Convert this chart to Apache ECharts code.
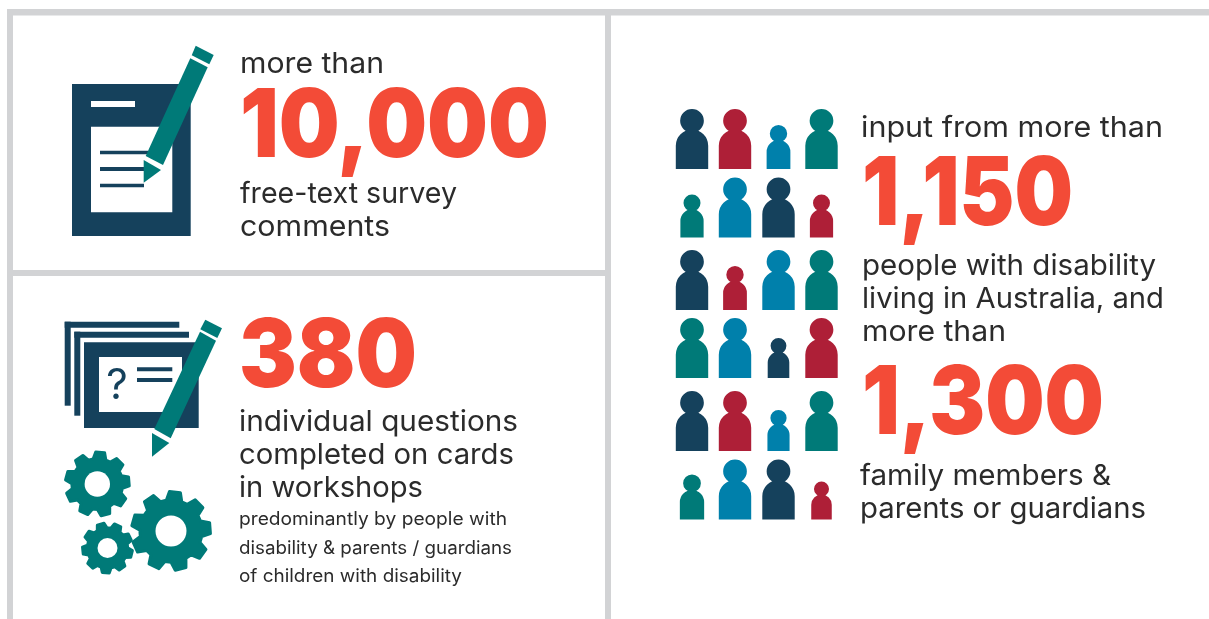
<!DOCTYPE html>
<html>
<head>
<meta charset="utf-8">
<style>
  html, body { margin: 0; padding: 0; background: #fff; }
  #chart { width: 1209px; height: 619px; }
</style>
<script src="https://cdn.jsdelivr.net/npm/echarts@6/dist/echarts.min.js"></script>
</head>
<body>
<div id="chart"></div>
<script>
const NAVY = '#15415c', TEAL = '#007a78', RED = '#ae1f37', BLUE = '#0080ab';
const ORANGE = '#f34b37', INK = '#2b2b2b', FRAME = '#d2d3d5';
const FONT = 'Inter, "Noto Sans", sans-serif';

// people grid, one row per list, left to right
const peopleColumns = [692, 735, 778.5, 821.5];
const peopleBases = [169, 237.5, 310, 378, 451, 519.5];
const peopleHeights = [
  [60, 60, 44, 60],
  [43, 60, 60, 43],
  [60, 44, 60, 60],
  [60, 60, 40, 60],
  [60, 60, 41, 60],
  [45, 60, 60, 38]
];
const peopleColors = [
  [NAVY, RED, BLUE, TEAL],
  [TEAL, BLUE, NAVY, RED],
  [NAVY, RED, BLUE, TEAL],
  [TEAL, BLUE, NAVY, RED],
  [NAVY, RED, BLUE, TEAL],
  [TEAL, BLUE, NAVY, RED]
];

const smallLines = ['more than', 'free-text survey', 'comments', 'individual questions',
  'completed on cards', 'in workshops', 'input from more than', 'people with disability',
  'living in Australia, and', 'more than', 'family members &', 'parents or guardians'];
const smallLinesX = [240, 240, 240, 239, 239, 239, 861, 862, 862, 862, 860, 860];
const smallLinesY = [64, 194, 227, 422, 455, 488, 128, 266, 299, 332, 476, 509];
const smallLinesW = [144, 217, 150, 279, 275, 184, 302, 294, 302, 144, 251, 286];

const noteLines = ['predominantly by people with', 'disability & parents / guardians', 'of children with disability'];
const noteLinesY = [520, 549, 577];
const noteLinesW = [268, 273, 223];

const bigNumbers = ['10,000', '380', '1,150', '1,300'];
const bigNumbersX = [240, 239, 862, 862];
const bigNumbersY = [128.5, 358.5, 196, 405.5];
const bigNumbersW = [309, 178, 211, 242];

const PERSON = 'path://M13 35A35.5 35.5 0 1 1 84 35A35.5 35.5 0 1 1 13 35ZM0 180V110A48.5 48.5 0 0 1 97 110V180Z';

const peopleData = [];
peopleBases.forEach((base, r) => {
  peopleColumns.forEach((x, c) => {
    const h = peopleHeights[r][c];
    peopleData.push({ value: [x, base - h / 2, h], itemStyle: { color: peopleColors[r][c] } });
  });
});

const measure = document.createElement('canvas').getContext('2d');
function line(text, x, y, width, size, weight, color) {
  const font = `${weight} ${size}px ${FONT}`;
  measure.font = font;
  return {
    type: 'text', x, y, silent: true,
    scaleX: width / measure.measureText(text).width,
    style: { text, font, fill: color, textAlign: 'left', textVerticalAlign: 'middle' }
  };
}
const box = (x, y, x2, y2, fill) => ({ type: 'rect', silent: true, shape: { x, y, width: x2 - x, height: y2 - y }, style: { fill } });
const poly = (points, fill) => ({ type: 'polygon', silent: true, shape: { points }, style: { fill } });

function gear(cx, cy, outer, hole, teeth, turn) {
  const pts = [];
  const inner = outer * 0.76;
  const step = Math.PI * 2 / teeth;
  for (let i = 0; i < teeth; i++) {
    const a = turn + i * step;
    [[-0.36, inner], [-0.2, outer - 1.5], [0.2, outer - 1.5], [0.36, inner]].forEach(([k, r]) => {
      pts.push([cx + r * Math.cos(a + k * step), cy + r * Math.sin(a + k * step)]);
    });
  }
  return [
    { type: 'polygon', silent: true, shape: { points: pts }, style: { fill: TEAL, stroke: TEAL, lineWidth: 3, lineJoin: 'round' } },
    { type: 'circle', silent: true, shape: { cx, cy, r: hole }, style: { fill: '#fff' } }
  ];
}

const graphics = [
  // frame
  box(7, 9, 1209, 15.5, FRAME),
  box(7, 9, 13, 619, FRAME),
  box(605, 9, 611, 619, FRAME),
  box(13, 270, 605, 276, FRAME),

  // document and pencil
  box(72, 84, 190.7, 236, NAVY),
  box(91, 101, 135, 107, '#fff'),
  box(91, 126.7, 172.3, 212.3, '#fff'),
  box(100, 150.7, 148, 154.3, NAVY),
  box(100, 167, 144, 171, NAVY),
  box(100, 183.7, 144, 187.3, NAVY),
  poly([[190.3, 58.3], [207.7, 67.3], [163, 165], [145.7, 156]], TEAL),
  poly([[195.7, 45.7], [213.7, 55], [209.3, 64.3], [191.7, 55.3]], TEAL),
  poly([[143.7, 160], [161, 170], [143.7, 182.7]], TEAL),

  // question cards and pencil
  box(64.7, 321.7, 179.3, 327.7, NAVY),
  box(64.7, 321.7, 70.7, 405.7, NAVY),
  box(74.3, 331.7, 189, 337.7, NAVY),
  box(74.3, 331.7, 80.3, 415.7, NAVY),
  box(84, 342.3, 198.7, 428, NAVY),
  box(99, 357, 182, 412, '#fff'),
  box(137, 367.3, 172.3, 371.3, NAVY),
  box(137, 378, 172.3, 382, NAVY),
  { type: 'text', x: 117, y: 386, silent: true, style: { text: '?', font: `400 42px ${FONT}`, fill: NAVY, textAlign: 'center', textVerticalAlign: 'middle' } },
  poly([[200, 331.7], [216, 340.7], [170.7, 438.3], [154.3, 429]], TEAL),
  poly([[205.3, 319.7], [222, 328.3], [217.3, 338], [200.3, 329.3]], TEAL),
  poly([[152, 433], [169.3, 443], [152, 456.7]], TEAL),

  // gears
  ...gear(97.3, 484, 33.5, 12.7, 9, -1.48),
  ...gear(171, 531, 41, 15.5, 9, -1.47),
  ...gear(107.5, 548, 26.5, 10, 9, -1.85),

  // text
  ...smallLines.map((t, i) => line(t, smallLinesX[i], smallLinesY[i], smallLinesW[i], 29, 400, INK)),
  ...noteLines.map((t, i) => line(t, 239, noteLinesY[i], noteLinesW[i], 18, 400, INK)),
  ...bigNumbers.map((t, i) => line(t, bigNumbersX[i], bigNumbersY[i], bigNumbersW[i], 95, 900, ORANGE))
];

const chart = echarts.init(document.getElementById('chart'), null, { renderer: 'canvas' });
chart.setOption({
  animation: false,
  backgroundColor: '#fff',
  grid: { left: 0, right: 0, top: 0, bottom: 0 },
  xAxis: { type: 'value', min: 0, max: 1209, show: false },
  yAxis: { type: 'value', min: 0, max: 619, inverse: true, show: false },
  graphic: graphics,
  series: [{
    type: 'scatter',
    silent: true,
    symbol: PERSON,
    symbolSize: (v) => [v[2] * 0.54, v[2]],
    itemStyle: { opacity: 1 },
    data: peopleData
  }]
});
</script>
</body>
</html>
